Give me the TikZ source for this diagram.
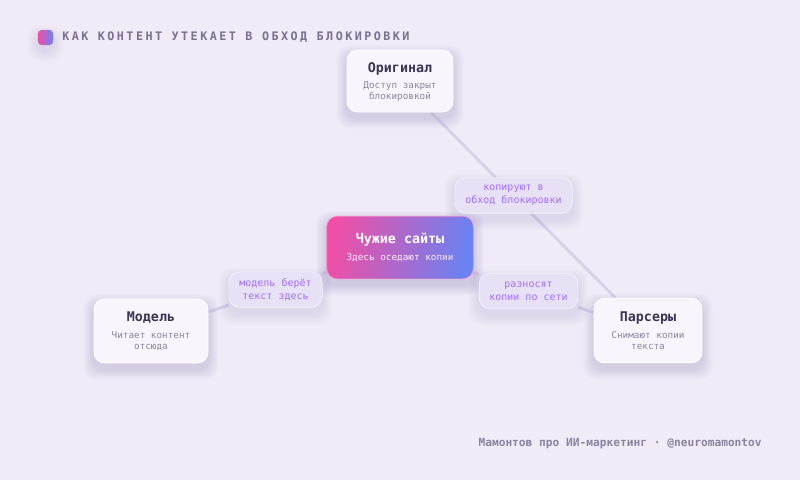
\documentclass[tikz,border=0pt]{standalone}
\usepackage{fontspec}
\setmonofont{DejaVu Sans Mono}
\newfontfamily\monof{DejaVu Sans Mono}
\newfontfamily\hdrf[LetterSpace=21]{DejaVu Sans Mono}
\usetikzlibrary{backgrounds}
\pgfdeclarelayer{bottom}
\pgfsetlayers{bottom,background,main}
\definecolor{bgc}{HTML}{F0EBF7}
\definecolor{cardc}{HTML}{F8F5FD}
\definecolor{labc}{HTML}{E8E0F4}
\definecolor{linec}{HTML}{D9D0EA}
\definecolor{ttlc}{HTML}{3B3452}
\definecolor{subc}{HTML}{8E849F}
\definecolor{labtc}{HTML}{A270F2}
\definecolor{hdrc}{HTML}{7B7090}
\definecolor{footc}{HTML}{8C82A0}
\definecolor{pinkc}{HTML}{EF4FA6}
\definecolor{bluec}{HTML}{6A82F2}
\definecolor{shadc}{HTML}{9C8CC0}
\newcommand\ttlf{\bfseries\fontsize{10}{8}\selectfont\color{ttlc}}
\newcommand\subf{\mdseries\fontsize{7}{8.2}\selectfont\color{subc}}
\newcommand\labf{\fontsize{7.5}{9.6}\selectfont\color{labtc}}
\tikzset{
  card/.style={draw=white, line width=0.6pt, fill=cardc, rounded corners=8pt, align=center, inner sep=0pt, font=\monof\fontsize{7}{8.2}\selectfont},
  lab/.style={draw=white!60!labc, line width=0.5pt, fill=labc, rounded corners=8pt, align=center, inner sep=0pt, minimum height=26.5pt, font=\monof\fontsize{7.5}{9.6}\selectfont},
  conn/.style={draw=linec, line width=2.2pt},
}
\newcommand\softshadow[2]{%
  \foreach \i in {1,...,10}{
    \fill[shadc, opacity=#2, rounded corners=9pt]
      ([shift={(-\i,-\i+6)}]#1.north west) rectangle ([shift={(\i,\i+6)}]#1.south east);
  }}
\begin{document}
\begin{tikzpicture}[x=0.75pt,y=-0.75pt]
\begin{pgfonlayer}{bottom}
\fill[bgc] (0,0) rectangle (800,480);
\end{pgfonlayer}
\useasboundingbox (0,0) rectangle (800,480);

% header
\node[draw=none, left color=pinkc, right color=bluec, rounded corners=3pt, minimum size=11.5pt, inner sep=0pt] (icon) at (45.5,37.5) {};
\node[anchor=west, inner sep=0pt, text=hdrc, font=\hdrf\bfseries\fontsize{8.8}{10}\selectfont] (hdr) at (62,37.5) {КАК КОНТЕНТ УТЕКАЕТ В ОБХОД БЛОКИРОВКИ};

% cards
\node[card, minimum width=79.5pt, minimum height=46.5pt, text depth=0pt] (orig) at (400,81)
  {\ttlf Оригинал\\[4.5pt]\subf Доступ закрыт\\\subf блокировкой};
\node[draw=white!40!pinkc, line width=0.5pt, left color=pinkc, right color=bluec, shading angle=80, rounded corners=8pt, minimum width=110pt, minimum height=47pt, align=center, inner sep=0pt, font=\monof\fontsize{7}{8}\selectfont] (alien) at (400,247.5)
  {\bfseries\fontsize{10}{8}\selectfont\color{white} Чужие сайты\\[4.5pt]\mdseries\fontsize{7}{8}\selectfont\color{white!90!pinkc} Здесь оседают копии};
\node[card, minimum width=85.5pt, minimum height=48pt] (model) at (151,331)
  {\ttlf Модель\\[4.5pt]\subf Читает контент\\\subf отсюда};
\node[card, minimum width=81pt, minimum height=48.5pt] (pars) at (648,330.5)
  {\ttlf Парсеры\\[4.5pt]\subf Снимают копии\\\subf текста};

% edge labels
\node[lab, minimum width=88pt] (l1) at (513.5,195.5) {\labf копируют в\\\labf обход блокировки};
\node[lab, minimum width=70pt] (l2) at (275.5,289.5) {\labf модель берёт\\\labf текст здесь};
\node[lab, minimum width=74pt] (l3) at (528.5,291) {\labf разносят\\\labf копии по сети};

\begin{pgfonlayer}{background}
  \draw[conn] (orig) -- (l1);
  \draw[conn] (l1) -- (pars);
  \draw[conn] (model) -- (l2);
  \draw[conn] (l2) -- (alien);
  \draw[conn] (alien) -- (l3);
  \draw[conn] (l3) -- (pars);
  \softshadow{orig}{0.03}
  \softshadow{alien}{0.035}
  \softshadow{model}{0.03}
  \softshadow{pars}{0.03}
  \softshadow{l1}{0.018}
  \softshadow{l2}{0.018}
  \softshadow{l3}{0.018}
  \softshadow{icon}{0.02}
\end{pgfonlayer}

% footer
\node[anchor=east, inner sep=0pt, text=footc, font=\monof\bfseries\fontsize{8.4}{10}\selectfont] (foot) at (762,444) {Мамонтов про ИИ-маркетинг · @neuromamontov};
\end{tikzpicture}
\end{document}
